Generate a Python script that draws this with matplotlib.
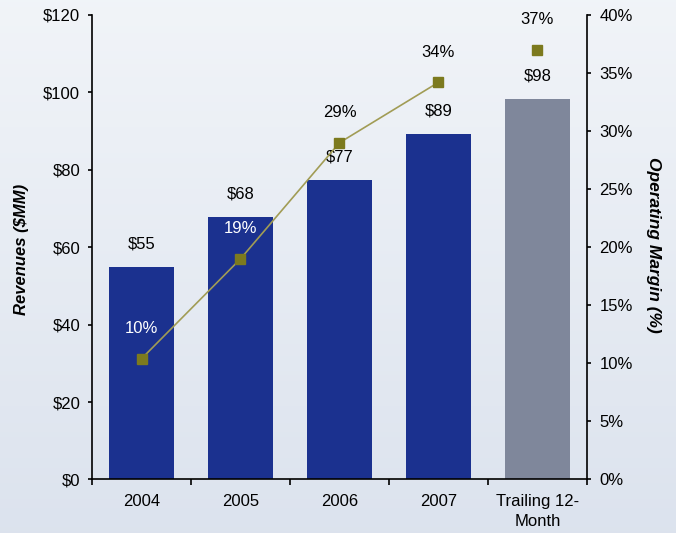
import numpy as np
import matplotlib
matplotlib.use('Agg')
import matplotlib.pyplot as plt

plt.rcParams['font.family'] = ['Liberation Sans', 'DejaVu Sans']

categories = ['2004', '2005', '2006', '2007', 'Trailing 12-\nMonth']
revenues = [54.8, 67.8, 77.3, 89.2, 98.3]
rev_labels = ['$55', '$68', '$77', '$89', '$98']
margins = [10.4, 19.0, 29.0, 34.2, 37.0]
margin_labels = ['10%', '19%', '29%', '34%', '37%']
bar_colors = ['#1b318f', '#1b318f', '#1b318f', '#1b318f', '#7f879b']

fig = plt.figure(figsize=(6.76, 5.33), dpi=100)

# gradient background
bg = fig.add_axes([0, 0, 1, 1], zorder=-10)
grad = np.linspace(0, 1, 256).reshape(-1, 1)
top = np.array([0.945, 0.957, 0.973])
bot = np.array([0.863, 0.890, 0.933])
img = top + (bot - top) * grad[:, :, None]
bg.imshow(img, aspect='auto', extent=[0, 1, 0, 1])
bg.axis('off')

ax = fig.add_axes([0.1361, 0.1004, 0.7322, 0.8715])
ax.patch.set_alpha(0)
x = np.arange(len(categories))
ax.bar(x, revenues, width=0.657, color=bar_colors, zorder=2)
ax.set_xlim(-0.5, 4.5)
ax.set_ylim(0, 120)
ax.set_yticks(range(0, 121, 20))
ax.set_yticklabels(['$%d' % v for v in range(0, 121, 20)])
ax.set_xticks(x)
ax.set_xticklabels(categories, linespacing=1.45)
ax.set_xticks(np.arange(-0.5, 5, 1), minor=True)
ax.tick_params(axis='x', which='major', length=0, pad=10.5)
ax.tick_params(axis='x', which='minor', length=4, direction='out', width=1.2)
ax.tick_params(axis='y', length=3, direction='out', width=1.2, pad=5.5)
ax.tick_params(labelsize=12)
for s in ['top', 'right']:
    ax.spines[s].set_visible(False)
ax.spines['left'].set_linewidth(1.2)
ax.spines['bottom'].set_linewidth(1.2)
ax.set_ylabel('Revenues ($MM)', fontsize=12, fontweight='bold', fontstyle='italic', va='center')

for xi, r, lab in zip(x, revenues, rev_labels):
    ax.annotate(lab, (xi, r), xytext=(0, 16.5), textcoords='offset points',
                ha='center', va='center', fontsize=12, color='black', zorder=5)

ax2 = ax.twinx()
ax2.set_ylim(0, 40)
ax2.set_yticks(range(0, 41, 5))
ax2.set_yticklabels(['%d%%' % v for v in range(0, 41, 5)])
ax2.tick_params(axis='y', length=3, direction='out', width=1.2, labelsize=12, pad=6)
for s in ['top', 'left', 'bottom']:
    ax2.spines[s].set_visible(False)
ax2.spines['right'].set_linewidth(1.2)
ax2.set_ylabel('Operating Margin (%)', fontsize=12.5, fontweight='bold', fontstyle='italic',
               rotation=-90, va='center')

ax2.plot(x[:4], margins[:4], color='#a19c55', lw=1.2, zorder=3)
ax2.plot(x, margins, ls='none', marker='s', ms=6.8, color='#7c7a1e', zorder=4)

for xi, m, lab, r in zip(x, margins, margin_labels, revenues):
    # label inside the bar gets white text
    label_rev = (m / 40 * 464 + 30) / 464 * 120
    col = 'white' if label_rev < r else 'black'
    ax2.annotate(lab, (xi, m), xytext=(0, 21.6), textcoords='offset points',
                 ha='center', va='center', fontsize=12, color=col, zorder=5)

# axis titles at fixed figure positions
ax.yaxis.set_label_coords(21.5 / 676, 1 - 249.5 / 533, transform=fig.transFigure)
ax2.yaxis.set_label_coords(654 / 676, 1 - 245 / 533, transform=fig.transFigure)

fig.savefig('out.png', dpi=100)
